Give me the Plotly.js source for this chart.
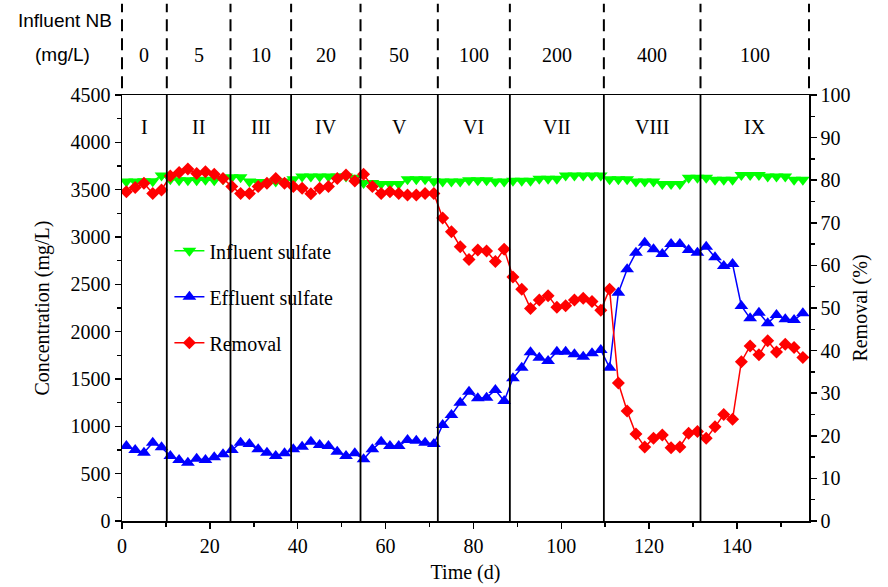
<!DOCTYPE html>
<html>
<head>
<meta charset="utf-8">
<script src="https://cdn.plot.ly/plotly-3.0.1.min.js"></script>
<style>html,body{margin:0;padding:0;background:#fff;}#chart{width:888px;height:587px;}</style>
</head>
<body>
<div id="chart"></div>
<script>
// ---- data ----
const days = [1,3,5,7,9, 11,13,15,17,19,21,23, 25,27,29,31,33,35,37,
  39,41,43,45,47,49,51,53, 55,57,59,61,63,65,67,69,71,
  73,75,77,79,81,83,85,87, 89,91,93,95,97,99,101,103,105,107,109,
  111,113,115,117,119,121,123,125,127,129,131,
  133,135,137,139,141,143,145,147,149,151,153,155];

const influentSulfate = [3585,3585,3590,3590,3650,
  3610,3600,3600,3600,3605,3600,3610,
  3630,3630,3585,3580,3580,3585,3585,
  3610,3640,3640,3640,3640,3640,3640,3625,
  3570,3570,3560,3560,3560,3610,3610,3610,3590,
  3585,3585,3585,3600,3600,3600,3585,3585,
  3595,3595,3595,3615,3615,3615,3650,3650,3650,3650,3650,
  3610,3610,3610,3585,3585,3585,3560,3560,3560,3625,3625,
  3625,3605,3605,3605,3655,3655,3655,3640,3640,3640,3605,3605];

const effluentSulfate = [792,750,721,827,778,
  687,644,616,658,644,673,705,
  750,827,813,757,721,687,715,
  757,785,838,803,792,732,687,715,
  652,757,838,792,792,856,848,827,813,
  1014,1120,1250,1366,1296,1303,1384,1268,
  1507,1619,1782,1725,1690,1788,1788,1761,1736,1771,1806,
  1619,2411,2659,2834,2940,2870,2820,2926,2926,2862,2834,
  2897,2785,2694,2715,2271,2141,2200,2088,2176,2131,2123,2194];

const removal = [77.3,78.3,79.3,76.9,77.7,
  81.0,81.8,82.6,81.6,82.0,81.4,80.4,
  78.5,76.9,76.9,78.5,79.3,80.4,79.3,
  78.5,78.1,76.8,78.1,78.5,80.4,81.2,79.8,
  81.4,78.5,76.9,77.3,76.9,76.5,76.5,76.9,76.9,
  71.1,67.9,64.4,61.4,63.6,63.4,60.9,63.8,
  57.3,54.4,49.9,51.9,52.9,50.2,50.5,51.9,52.3,51.5,49.5,
  54.4,32.4,25.8,20.4,17.4,19.4,20.2,17.2,17.4,20.6,21.0,
  19.4,22.1,25.0,23.9,37.4,41.1,39.0,42.3,39.7,41.5,40.7,38.4];

const stageBounds = [0,10.2,24.7,38.5,54.3,71.9,88.3,109.7,131.7,156.4];
const stageLabels = ['I','II','III','IV','V','VI','VII','VIII','IX'];
const nbLabels = ['0','5','10','20','50','100','200','400','100'];
const xMax = 156.4;

// ---- styling ----
const FONT = 'Liberation Serif';
const FS = 20;

const traces = [
  {x: days, y: influentSulfate, name: 'Influent sulfate', type: 'scatter', mode: 'lines+markers',
   legendgroup: 'a', line: {color: '#00ff00', width: 1.5},
   marker: {symbol: 'triangle-down', size: 12, color: '#00ff00'}},
  {x: days, y: effluentSulfate, name: 'Effluent sulfate', type: 'scatter', mode: 'lines+markers',
   legendgroup: 'b', line: {color: '#0000ff', width: 1.5},
   marker: {symbol: 'triangle-up', size: 12, color: '#0000ff'}},
  {x: days, y: removal, name: 'Removal', type: 'scatter', mode: 'lines+markers', yaxis: 'y2',
   legendgroup: 'c', line: {color: '#ff0000', width: 1.5},
   marker: {symbol: 'diamond', size: 10, color: '#ff0000'}}
];

const shapes = [];
const annotations = [];
for (let i = 1; i < stageBounds.length - 1; i++) {
  shapes.push({type: 'line', xref: 'x', yref: 'paper', x0: stageBounds[i], x1: stageBounds[i], y0: 0, y1: 1,
    line: {color: '#000', width: 1.8}});
}
for (let i = 0; i < stageBounds.length; i++) {
  const xp = stageBounds[i] / xMax;
  shapes.push({type: 'line', xref: 'paper', yref: 'paper', x0: xp, x1: xp, y0: 1.016, y1: 1.214,
    line: {color: '#000', width: 2, dash: '12px,7px'}});
}
for (let i = 0; i < stageLabels.length; i++) {
  const c = (stageBounds[i] + stageBounds[i+1]) / 2;
  annotations.push({xref: 'x', yref: 'paper', x: c, y: 0.925, xanchor: 'center', yanchor: 'middle',
    text: stageLabels[i], showarrow: false, font: {family: FONT, size: FS, color: '#000'}});
  annotations.push({xref: 'x', yref: 'paper', x: c, y: 1.094, xanchor: 'center', yanchor: 'middle',
    text: nbLabels[i], showarrow: false, font: {family: FONT, size: FS, color: '#000'}});
}
annotations.push({xref: 'paper', yref: 'paper', x: -0.012, y: 1.176, xanchor: 'right', yanchor: 'middle',
  text: 'Influent NB', showarrow: false, font: {family: 'Liberation Sans', size: 19, color: '#000'}});
annotations.push({xref: 'paper', yref: 'paper', x: -0.086, y: 1.094, xanchor: 'center', yanchor: 'middle',
  text: '(mg/L)', showarrow: false, font: {family: 'Liberation Sans', size: 19, color: '#000'}});

const axisCommon = {
  showline: true, linecolor: '#000', linewidth: 1.5, ticks: 'outside', ticklen: 6, tickwidth: 1.5,
  tickcolor: '#000', showgrid: false, zeroline: false,
  tickfont: {family: FONT, size: FS, color: '#000'}
};

const layout = {
  width: 888, height: 587,
  margin: {l: 122, r: 79, t: 95, b: 66},
  paper_bgcolor: '#fff', plot_bgcolor: '#fff',
  font: {family: FONT, size: FS, color: '#000'},
  xaxis: Object.assign({}, axisCommon, {
    range: [0, xMax], tickmode: 'array', tickvals: [0,20,40,60,80,100,120,140], mirror: true,
    minor: {dtick: 10, tick0: 0, ticks: 'outside', ticklen: 4, tickcolor: '#000', tickwidth: 1.5},
    title: {text: 'Time (d)', font: {family: FONT, size: FS, color: '#000'}, standoff: 9}
  }),
  yaxis: Object.assign({}, axisCommon, {
    range: [0, 4500], dtick: 500, tick0: 0,
    minor: {dtick: 250, tick0: 0, ticks: 'outside', ticklen: 4, tickcolor: '#000', tickwidth: 1.5},
    title: {text: 'Concentration (mg/L)', font: {family: FONT, size: FS, color: '#000'}, standoff: 15}
  }),
  yaxis2: Object.assign({}, axisCommon, {
    overlaying: 'y', side: 'right', range: [0, 100], dtick: 10, tick0: 0,
    minor: {dtick: 5, tick0: 0, ticks: 'outside', ticklen: 4, tickcolor: '#000', tickwidth: 1.5},
    title: {text: 'Removal (%)', font: {family: FONT, size: FS, color: '#000'}, standoff: 3}
  }),
  showlegend: true,
  legend: {x: 0.069, y: 0.68, xanchor: 'left', yanchor: 'top', bgcolor: 'rgba(0,0,0,0)',
    font: {family: FONT, size: FS, color: '#000'}, traceorder: 'grouped', tracegroupgap: 17},
  shapes: shapes,
  annotations: annotations
};

Plotly.newPlot('chart', traces, layout, {displayModeBar: false, staticPlot: true});
</script>
</body>
</html>
